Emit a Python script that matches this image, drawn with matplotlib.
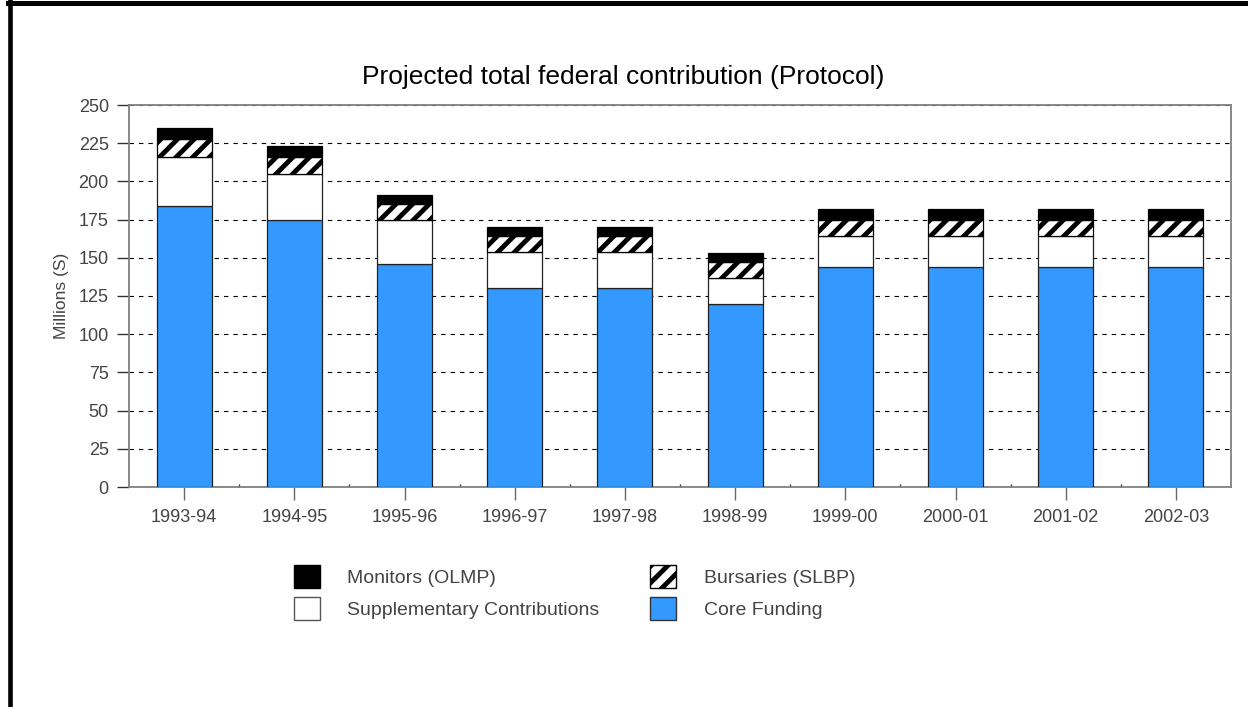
import matplotlib
matplotlib.use("Agg")
import matplotlib.pyplot as plt
from matplotlib.patches import Patch
from matplotlib.lines import Line2D
import numpy as np

plt.rcParams['font.family'] = ['Liberation Sans', 'DejaVu Sans']
plt.rcParams['hatch.linewidth'] = 3.5

categories = ["1993-94", "1994-95", "1995-96", "1996-97", "1997-98",
              "1998-99", "1999-00", "2000-01", "2001-02", "2002-03"]
core_funding = [184, 175, 146, 130, 130, 120, 144, 144, 144, 144]
supplementary = [32, 30, 29, 24, 24, 17, 20, 20, 20, 20]
bursaries = [11.5, 11, 10, 10, 10, 10, 11, 11, 11, 11]
monitors = [7.5, 7, 6, 6, 6, 6, 7, 7, 7, 7]
y_ticks = [0, 25, 50, 75, 100, 125, 150, 175, 200, 225, 250]

W, H = 1248, 707
fig = plt.figure(figsize=(W / 100, H / 100), dpi=100)
ax = fig.add_axes([129 / W, 1 - 487 / H, (1231 - 129) / W, (487 - 105) / H])

x = np.arange(len(categories))
core = np.array(core_funding, dtype=float)
supp = np.array(supplementary, dtype=float)
burs = np.array(bursaries, dtype=float)
mon = np.array(monitors, dtype=float)

bw = 0.5
ax.bar(x, core, bw, color="#3399FF", edgecolor="#222222", linewidth=0.9, zorder=3)
ax.bar(x, supp, bw, bottom=core, color="white", edgecolor="#222222", linewidth=0.9, zorder=3)
ax.bar(x, burs, bw, bottom=core + supp, color="white", edgecolor="black",
       hatch="//", linewidth=0.9, zorder=3)
ax.bar(x, mon, bw, bottom=core + supp + burs, color="black", edgecolor="black",
       linewidth=0.9, zorder=3)

ax.set_xlim(-0.5, len(categories) - 0.5)
ax.set_ylim(0, 250)
ax.set_yticks(y_ticks)
ax.set_xticks(x)
ax.set_xticklabels(categories)
ax.set_xticks(x[:-1] + 0.5, minor=True)

ax.yaxis.grid(True, linestyle=(0, (4, 4.5)), color="black", linewidth=0.8)
ax.set_axisbelow(True)

for s in ax.spines.values():
    s.set_color("#808080")
    s.set_linewidth(1.3)

ax.tick_params(axis="y", direction="out", length=9, width=1.0, color="#333333",
               labelsize=13, labelcolor="#444444", pad=5.5)
ax.tick_params(axis="x", which="major", direction="out", length=9, width=1.0,
               color="#666666", labelsize=13, labelcolor="#444444", pad=7)
ax.tick_params(axis="x", which="minor", direction="in", length=2.5, width=1.0,
               color="#333333")

ax.set_ylabel("Millions (S)", fontsize=12.5, color="#444444", labelpad=7)

fig.text(623 / W, 1 - 77 / H, "Projected total federal contribution (Protocol)",
         ha="center", va="center", fontsize=19, color="black")

handles = [
    Patch(facecolor="black", edgecolor="black", label="Monitors (OLMP)"),
    Patch(facecolor="white", edgecolor="#555555", label="Supplementary Contributions"),
    Patch(facecolor="white", edgecolor="black", hatch="//", label="Bursaries (SLBP)"),
    Patch(facecolor="#3399FF", edgecolor="#333333", label="Core Funding"),
]
leg = fig.legend(handles=handles, ncol=2, frameon=False, fontsize=14,
                 loc="upper left", bbox_to_anchor=(278 / W, 1 - 549 / H),
                 handlelength=1.35, handleheight=1.45, handletextpad=1.42,
                 columnspacing=2.6, labelspacing=0.5, borderpad=0.3)
for t in leg.get_texts():
    t.set_color("#444444")

# page frame
fig.add_artist(Line2D([10 / W, 10 / W], [0, 1], color="black", linewidth=3.3,
                      transform=fig.transFigure))
fig.add_artist(Line2D([8 / W, 1], [1 - 2.5 / H, 1 - 2.5 / H], color="black",
                      linewidth=3.6, transform=fig.transFigure))

fig.savefig("out.png", dpi=100, facecolor="white")
